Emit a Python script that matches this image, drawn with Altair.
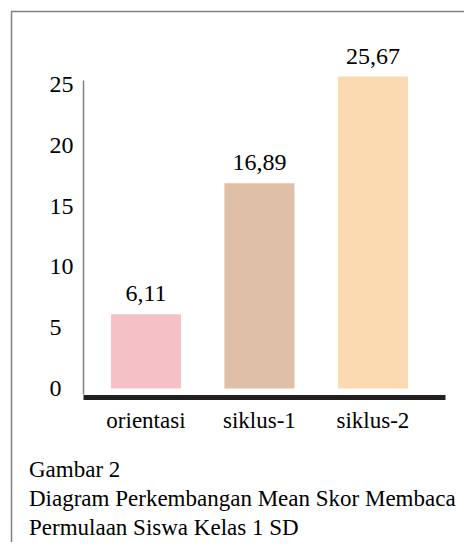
import altair as alt
import pandas as pd

categories = ["orientasi", "siklus-1", "siklus-2"]
values = [6.11, 16.89, 25.67]
value_labels = ["6,11", "16,89", "25,67"]
colors = ["#f5c1c6", "#dfbfa6", "#fbdab2"]
y_ticks = [0, 5, 10, 15, 20, 25]
caption = ["Gambar 2",
           "Diagram Perkembangan Mean Skor Membaca",
           "Permulaan Siswa Kelas 1 SD"]

df = pd.DataFrame({"kategori": categories, "nilai": values, "label": value_labels})

SERIF = "Liberation Serif"

x_enc = alt.X("kategori:N", sort=categories,
              scale=alt.Scale(paddingInner=0.383, paddingOuter=0.2863, align=0.43),
              axis=alt.Axis(title=None, labelAngle=0, labelFont=SERIF, labelFontSize=23,
                            labelColor="#000000", labelBaseline="alphabetic",
                            ticks=False, tickSize=0, labelPadding=30,
                            domainColor="#231f20", domainWidth=5, offset=3))
y_scale = alt.Scale(domain=[-0.453, 25.39], nice=False, zero=False)

bars = alt.Chart(df).mark_bar().encode(
    x=x_enc,
    y=alt.Y("nilai:Q", scale=y_scale,
            axis=alt.Axis(title=None, values=y_ticks, grid=False, ticks=False, tickSize=0,
                          labelAlign="left", labelPadding=34, labelFont=SERIF,
                          labelFontSize=24, labelColor="#000000",
                          domainColor="#808080", domainWidth=1.5)),
    y2=alt.datum(0),
    color=alt.Color("kategori:N", sort=categories,
                    scale=alt.Scale(domain=categories, range=colors), legend=None),
)

texts = alt.Chart(df).mark_text(font=SERIF, fontSize=24, color="#000000",
                                baseline="alphabetic", dy=-13).encode(
    x=alt.X("kategori:N", sort=categories),
    y=alt.Y("nilai:Q", scale=y_scale),
    text="label:N",
)

frame = alt.Chart(pd.DataFrame({"f": [1]})).mark_rect(
    fill=None, stroke="#808080", strokeWidth=1.5).encode(
    x=alt.value(-71.5), x2=alt.value(700), y=alt.value(-68.5), y2=alt.value(700))

cap = alt.Chart(pd.DataFrame({"t": ["\n".join(caption)]})).mark_text(
    font=SERIF, fontSize=23, color="#000000", align="left", baseline="alphabetic",
    lineBreak="\n", lineHeight=29).encode(
    x=alt.value(-54), y=alt.value(397), text="t:N")

chart = alt.layer(frame, bars, texts, cap).properties(
    width=362, height=314,
    autosize=alt.AutoSizeParams(type="none"),
    padding={"left": 75, "top": 72, "right": 19, "bottom": 148},
    background="white",
).configure_view(stroke=None)

chart.save("out.html", embed_options={"renderer": "svg", "actions": False})
